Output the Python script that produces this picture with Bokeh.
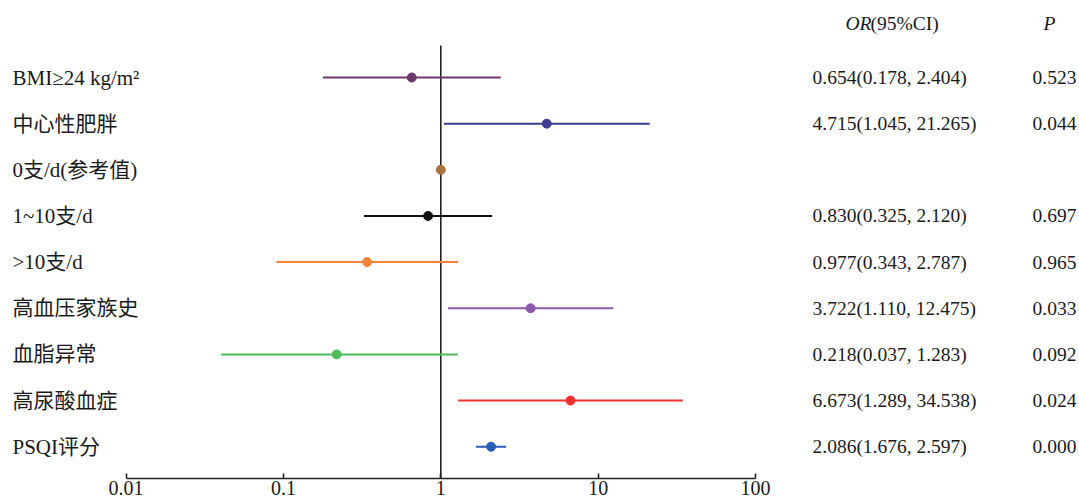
import math
from bokeh.plotting import figure
from bokeh.models import Range1d, FixedTicker, ColumnDataSource
from bokeh.core.properties import value
from bokeh.embed import file_html
from bokeh.resources import INLINE

# ---- data ----
labels = ["BMI≥24 kg/m²", "中心性肥胖", "0支/d(参考值)", "1~10支/d", ">10支/d",
          "高血压家族史", "血脂异常", "高尿酸血症", "PSQI评分"]
# plotted points and intervals (as drawn)
or_plot = [0.654, 4.715, 1.0, 0.830, 0.340, 3.722, 0.218, 6.673, 2.086]
lo_plot = [0.178, 1.045, 1.0, 0.325, 0.090, 1.110, 0.040, 1.289, 1.676]
hi_plot = [2.404, 21.265, 1.0, 2.120, 1.288, 12.475, 1.283, 34.538, 2.597]
or_text = ["0.654(0.178, 2.404)", "4.715(1.045, 21.265)", "", "0.830(0.325, 2.120)",
           "0.977(0.343, 2.787)", "3.722(1.110, 12.475)", "0.218(0.037, 1.283)",
           "6.673(1.289, 34.538)", "2.086(1.676, 2.597)"]
p_text = ["0.523", "0.044", "", "0.697", "0.965", "0.033", "0.092", "0.024", "0.000"]
colors = ["#6c386b", "#3b3e8f", "#a8743a", "#111111", "#f5843b",
          "#8a5aab", "#4dbd5a", "#f2302e", "#2b5db5"]
ticks = [0.01, 0.1, 1, 10, 100]

# ---- layout helpers (canvas pixels) ----
W, H = 1079, 503
ONE_PX = 440.3        # canvas x of value 1
DEC = 157.35          # px per decade
ROW0 = 77.0           # canvas y of first row
ROWH = 46.15
AXIS_PANEL = 25
FRAME_H = H - AXIS_PANEL


def px2x(px):
    return 10 ** ((px - ONE_PX) / DEC)


def py2row(py):
    return (py - ROW0) / ROWH


x0 = 10 ** (-ONE_PX / DEC)
x1 = 10 ** ((W - ONE_PX) / DEC)
y_top = -ROW0 / ROWH
y_bot = y_top + FRAME_H / ROWH

rows = list(range(len(labels)))
FONT = "Liberation Serif, Noto Sans CJK SC"
TXT = "#1a1a1a"

p = figure(width=W, height=H, x_axis_type="log", y_axis_location=None,
           x_range=Range1d(x0, x1), y_range=Range1d(y_bot, y_top),
           output_backend="svg", toolbar_location=None,
           min_border_left=0, min_border_right=0, min_border_top=0,
           min_border_bottom=AXIS_PANEL)
p.outline_line_color = None
p.xgrid.visible = False
p.ygrid.visible = False
p.background_fill_color = "white"

ax = p.xaxis[0]
ax.ticker = FixedTicker(ticks=ticks)
ax.bounds = (0.01, 100)
ax.major_label_overrides = {t: ("%g" % t) for t in ticks}
ax.major_tick_in = 5
ax.major_tick_out = 0
ax.minor_tick_in = 0
ax.minor_tick_out = 0
ax.axis_line_width = 1.6
ax.axis_line_color = "#222222"
ax.major_tick_line_color = "#222222"
ax.major_tick_line_width = 1.6
ax.major_label_text_font = FONT
ax.major_label_text_font_size = "20px"
ax.major_label_text_color = TXT
ax.major_label_standoff = 2

# reference line at OR = 1
p.segment(x0=[1], x1=[1], y0=[py2row(45)], y1=[y_bot], line_color="#222222", line_width=1.6)

src = ColumnDataSource(dict(y=rows, orv=or_plot, lo=lo_plot, hi=hi_plot, c=colors))
p.segment(x0="lo", x1="hi", y0="y", y1="y", line_color="c", line_width=2, source=src)
p.scatter(x="orv", y="y", size=9, fill_color="c", line_color="c", source=src)

# left labels
src_l = ColumnDataSource(dict(x=[px2x(12)] * len(labels), y=rows, t=labels))
p.text(x="x", y="y", text="t", source=src_l, text_font=value(FONT), text_font_size="21px",
       text_color=TXT, text_baseline="middle", text_align="left")

# right columns
src_r = ColumnDataSource(dict(x=[px2x(812)] * len(labels), xp=[px2x(1032)] * len(labels),
                              y=rows, ort=or_text, pt=p_text))
p.text(x="x", y="y", text="ort", source=src_r, text_font=value(FONT), text_font_size="19.5px",
       text_color=TXT, text_baseline="middle", text_align="left")
p.text(x="xp", y="y", text="pt", source=src_r, text_font=value(FONT), text_font_size="19.5px",
       text_color=TXT, text_baseline="middle", text_align="left")

# header
hy = py2row(23)
p.text(x=[px2x(845)], y=[hy], text=["OR"], text_font=value(FONT), text_font_size="19.5px",
       text_font_style="italic", text_color=TXT, text_baseline="middle", text_align="left")
p.text(x=[px2x(870)], y=[hy], text=["(95%CI)"], text_font=value(FONT), text_font_size="19.5px",
       text_color=TXT, text_baseline="middle", text_align="left")
p.text(x=[px2x(1043)], y=[hy], text=["P"], text_font=value(FONT), text_font_size="19.5px",
       text_font_style="italic", text_color=TXT, text_baseline="middle", text_align="left")

open("out.html", "w").write(file_html(p, INLINE))
